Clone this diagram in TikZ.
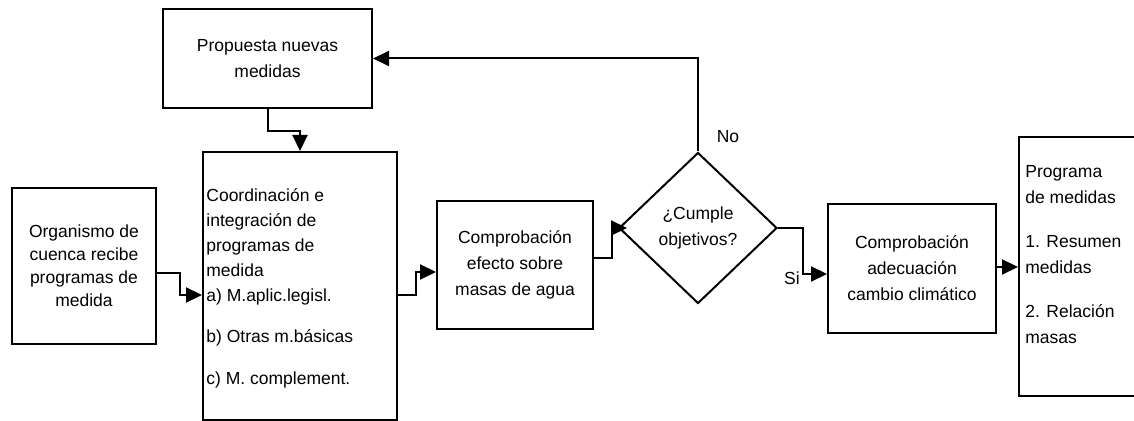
\documentclass[tikz,border=0pt]{standalone}
\usepackage{fontspec}
\setmainfont{Liberation Sans}
\usetikzlibrary{arrows.meta,shapes.geometric}
\tikzset{
  box/.style={draw,line width=1pt,inner sep=0pt,align=center,font=\fontsize{8.75}{13}\selectfont},
  txt/.style={inner sep=0pt,align=left,font=\fontsize{8.75}{12.5}\selectfont},
  arr/.style={line width=1pt,-{Triangle[length=8pt,width=7.5pt]}}
}
\begin{document}
\begin{tikzpicture}[x=0.5pt,y=-0.5pt]
\useasboundingbox (0,0) rectangle (1134,421);
\clip (0,0) rectangle (1134,421);
\node[box,minimum width=104.5pt,minimum height=49.5pt] (prop) at (267.5,58.5) {Propuesta nuevas\\medidas};
\node[box,minimum width=72pt,minimum height=78pt,font=\fontsize{8.75}{11.5}\selectfont] (org) at (84,266) {Organismo de\\cuenca recibe\\programas de\\medida};
\node[box,minimum width=97pt,minimum height=134pt] (coord) at (300,286) {};
\node[txt,anchor=north west] (coordtxt) at (206,188) {Coordinación e\\integración de\\programas de\\medida\\a) M.aplic.legisl.\\[8pt]b) Otras m.básicas\\[8.5pt]c) M. complement.};
\node[box,minimum width=78pt,minimum height=64pt] (compr) at (515,265) {Comprobación\\efecto sobre\\masas de agua};
\node[box,diamond,minimum width=79pt,minimum height=75.5pt] (dia) at (698,228) {¿Cumple\\objetivos?};
\node[box,minimum width=84pt,minimum height=64.5pt] (adec) at (912,268.5) {Comprobación\\adecuación\\cambio climático};
\node[box,minimum width=65.5pt,minimum height=129.5pt] (prog) at (1084.5,266.5) {};
\node[txt,anchor=north west,font=\fontsize{8.75}{13.25}\selectfont] (progtxt) at (1025,165) {Programa\\de medidas\\[8.5pt]1. Resumen\\medidas\\[8.5pt]2. Relación\\masas};
\node[txt] (no) at (728,137) {No};
\node[txt] (si) at (792,278) {Si};

\draw[arr] (org.east |- 0,273) -- (180,273) |- (coord.west |- 0,295);
\draw[arr] (prop.south) |- (300,131) -- (coord.north);
\draw[arr] (coord.east |- 0,295) -- (416,295) |- (compr.west |- 0,272);
\draw[arr,shorten >=-4.5pt] (compr.east |- 0,258) -- (612,258) |- (dia.west);
\draw[arr] (dia.east) -- (803,228) |- (adec.west |- 0,274);
\draw[arr] (dia.north) |- (prop.east);
\draw[arr] (adec.east |- 0,267) -- (prog.west |- 0,267);
\end{tikzpicture}
\end{document}
